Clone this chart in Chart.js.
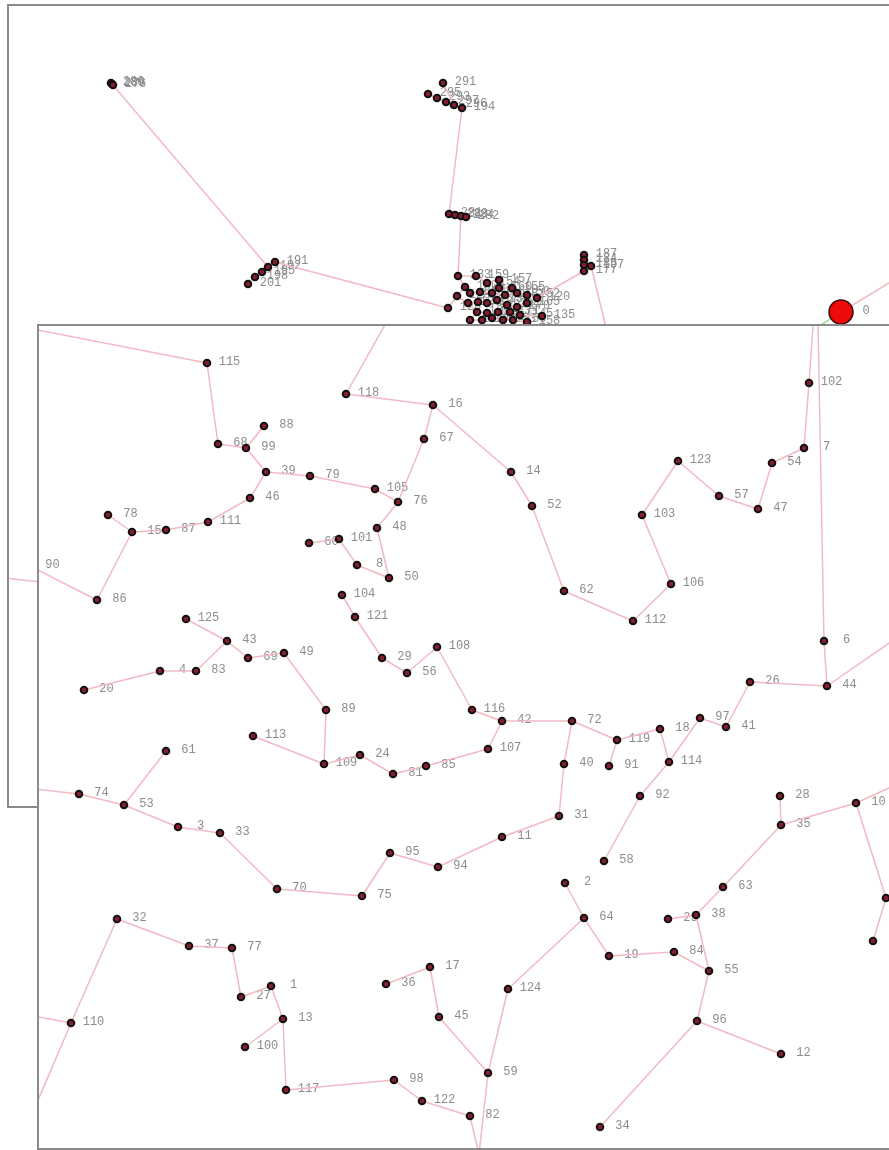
<!DOCTYPE html>
<html>
<head>
<meta charset="utf-8">
<script src="https://cdn.jsdelivr.net/npm/chart.js@4"></script>
<style>
  body { margin: 0; background: #fff; overflow: hidden; }
  .panel { position: absolute; border: 2px solid #8a8a8a; background: #fff; }
  #topPanel { left: 7px; top: 4px; }
  #botPanel { left: 37px; top: 324px; }
</style>
</head>
<body>
<div class="panel" id="topPanel"><canvas id="topChart"></canvas></div>
<div class="panel" id="botPanel"><canvas id="botChart"></canvas></div>
<script>
  // ---- top view : node ids and positions ("h" = node outside the picture)
  const topIds = ['0', '286', '289', '276', '191', '192', '195', '198', '201',
    '291', '285', '293', '297', '296', '194', '281', '283', '284', '282',
    '187', '184', '185', '177', '197',
    '133', '159', '154', '157', '160', '155', '140', '128', '142', '144', '146', '148', '150', '152', '120',
    '126', '129', '131', '136', '138', '204', '170', '165', '139', '141', '143', '71', '145',
    '147', '149', '151', '153', '156', '158', '135',
    'h0r', 'h197', 'hL', 'hM', 'hG'];
  const topX = [841, 111, 112, 113, 275, 268, 262, 255, 248,
    443, 428, 437, 446, 454, 462, 449, 455, 461, 466,
    584, 584, 584, 584, 591,
    458, 476, 487, 499, 499, 512, 465, 457, 470, 480, 492, 505, 517, 527, 537,
    448, 468, 478, 487, 497, 507, 517, 527, 477, 487, 498, 510, 520,
    470, 482, 492, 503, 513, 527, 542,
    950, 620, -40, 200, 780];
  const topY = [312, 83, 84, 85, 262, 267, 272, 277, 284,
    83, 94, 98, 102, 105, 108, 214, 215, 216, 217,
    255, 260, 265, 271, 266,
    276, 276, 283, 280, 288, 288, 287, 296, 293, 292, 293, 295, 293, 295, 298,
    308, 303, 302, 303, 300, 305, 307, 303, 312, 313, 312, 312, 315,
    320, 320, 318, 320, 320, 322, 316,
    246, 385, 573, 600, 352];
  const topEdges = [['0', 'h0r'], ['286', '289'], ['276', '289'], ['289', '192'],
    ['191', '192'], ['192', '195'], ['195', '198'], ['198', '201'], ['191', '126'],
    ['291', '296'], ['285', '293'], ['293', '297'], ['297', '296'], ['296', '194'], ['194', '281'],
    ['281', '283'], ['283', '284'], ['284', '282'], ['284', '133'],
    ['187', '184'], ['184', '185'], ['185', '177'], ['177', '120'], ['184', '197'], ['197', 'h197'],
    ['hL', 'hM'],
    ['133', '159'], ['159', '154'], ['154', '157'], ['157', '160'], ['160', '155'],
    ['133', '140'], ['140', '128'], ['128', '126'], ['140', '142'], ['142', '144'], ['144', '146'],
    ['146', '148'], ['148', '150'], ['150', '152'], ['152', '120'],
    ['128', '129'], ['129', '131'], ['131', '136'], ['136', '138'], ['138', '204'], ['204', '170'], ['170', '165'],
    ['129', '139'], ['139', '141'], ['141', '143'], ['143', '71'], ['71', '145'], ['145', '135'],
    ['139', '147'], ['147', '149'], ['149', '151'], ['151', '153'], ['153', '156'], ['156', '158']];
  const topGreenEdges = [['0', 'hG']];

  // ---- close-up view
  const botIds = ['h0', '102', '7', '54', '47', '57', '123', '103', '106', '112', '62', '52', '14', '16',
    '118', 'h118', '67', '76', '105', '79', '39', '99', '88', '68', '115', 'h115',
    '46', '111', '87', '15', '78', '86', '90', '48', '50', '8', '101', '60',
    '104', '121', '29', '56', '108', '116', '42', '107', '85', '81', '24', '109', '113',
    '89', '49', '69', '43', '125', '83', '4', '20',
    '72', '40', '31', '11', '94', '95', '75', '70', '33', '3', '53', '74', 'h74', '61',
    '119', '91', '18', '114', '92', '58', '97', '41', '26', '44', '6', 'h44',
    '28', '35', '10', 'h10', '120', '93', '63', '38', '23', '55', '84', '19', '64', '2',
    '124', '59', '45', '17', '36', '96', '12', '34', '82', 'h82',
    '122', '98', '117', '13', '100', '1', '27', '77', '37', '32', '110', 'h110a', 'h110b'];
  const botX = [817, 809, 804, 772, 758, 719, 678, 642, 671, 633, 564, 532, 511, 433,
    346, 399, 424, 398, 375, 310, 266, 246, 264, 218, 207, -60,
    250, 208, 166, 132, 108, 97, 30, 377, 389, 357, 339, 309,
    342, 355, 382, 407, 437, 472, 502, 488, 426, 393, 360, 324, 253,
    326, 284, 248, 227, 186, 196, 160, 84,
    572, 564, 559, 502, 438, 390, 362, 277, 220, 178, 124, 79, -60, 166,
    617, 609, 660, 669, 640, 604, 700, 726, 750, 827, 824, 950,
    780, 781, 856, 950, 886, 873, 723, 696, 668, 709, 674, 609, 584, 565,
    508, 488, 439, 430, 386, 697, 781, 600, 470, 479,
    422, 394, 286, 283, 245, 271, 241, 232, 189, 117, 71, -60, 4];
  const botY = [270, 383, 448, 463, 509, 496, 461, 515, 584, 621, 591, 506, 472, 405,
    394, 300, 439, 502, 489, 476, 472, 448, 426, 444, 363, 311,
    498, 522, 530, 532, 515, 600, 566, 528, 578, 565, 539, 543,
    595, 617, 658, 673, 647, 710, 721, 749, 766, 774, 755, 764, 736,
    710, 653, 658, 641, 619, 671, 671, 690,
    721, 764, 816, 837, 867, 853, 896, 889, 833, 827, 805, 794, 778, 751,
    740, 766, 729, 762, 796, 861, 718, 727, 682, 686, 641, 601,
    796, 825, 803, 760, 898, 941, 887, 915, 919, 971, 952, 956, 918, 883,
    989, 1073, 1017, 967, 984, 1021, 1054, 1127, 1116, 1154,
    1101, 1080, 1090, 1019, 1047, 986, 997, 948, 946, 919, 1023, 998, 1180];
  const botEdges = [['h0', '102'], ['102', '7'], ['7', '54'], ['54', '47'], ['47', '57'], ['57', '123'],
    ['123', '103'], ['103', '106'], ['106', '112'], ['112', '62'], ['62', '52'], ['52', '14'], ['14', '16'],
    ['16', '118'], ['118', 'h118'], ['16', '67'], ['67', '76'], ['76', '105'], ['105', '79'], ['79', '39'],
    ['39', '99'], ['99', '88'], ['99', '68'], ['68', '115'], ['115', 'h115'],
    ['39', '46'], ['46', '111'], ['111', '87'], ['87', '15'], ['15', '78'], ['15', '86'], ['86', '90'],
    ['76', '48'], ['48', '50'], ['50', '8'], ['8', '101'], ['101', '60'],
    ['104', '121'], ['121', '29'], ['29', '56'], ['56', '108'], ['108', '116'], ['116', '42'],
    ['42', '107'], ['107', '85'], ['85', '81'], ['81', '24'], ['24', '109'], ['109', '113'],
    ['109', '89'], ['89', '49'], ['49', '69'], ['69', '43'], ['43', '125'], ['43', '83'], ['83', '4'], ['4', '20'],
    ['42', '72'], ['72', '40'], ['40', '31'], ['31', '11'], ['11', '94'], ['94', '95'], ['95', '75'],
    ['75', '70'], ['70', '33'], ['33', '3'], ['3', '53'], ['53', '74'], ['74', 'h74'], ['53', '61'],
    ['72', '119'], ['119', '91'], ['119', '18'], ['18', '114'], ['114', '92'], ['92', '58'],
    ['114', '97'], ['97', '41'], ['41', '26'], ['26', '44'], ['44', '6'], ['6', 'h0'], ['44', 'h44'],
    ['28', '35'], ['35', '10'], ['10', 'h10'], ['10', '120'], ['120', '93'],
    ['35', '63'], ['63', '38'], ['38', '23'], ['38', '55'], ['55', '84'], ['84', '19'], ['19', '64'],
    ['64', '2'], ['64', '124'], ['124', '59'], ['59', '45'], ['45', '17'], ['17', '36'],
    ['59', 'h82'], ['82', 'h82'], ['82', '122'], ['122', '98'], ['98', '117'], ['117', '13'],
    ['13', '100'], ['13', '1'], ['1', '27'], ['27', '77'], ['77', '37'], ['37', '32'],
    ['32', '110'], ['110', 'h110a'], ['110', 'h110b'],
    ['55', '96'], ['96', '12'], ['96', '34']];

  function edgeData(ids, xs, ys, edges) {
    const out = [];
    edges.forEach(function (e) {
      const a = ids.indexOf(e[0]), b = ids.indexOf(e[1]);
      out.push({x: xs[a], y: ys[a]}, {x: xs[b], y: ys[b]}, {x: null, y: null});
    });
    return out;
  }

  function nodeData(ids, xs, ys, keep) {
    const out = [];
    ids.forEach(function (id, i) {
      if (keep(id)) out.push({x: xs[i], y: ys[i]});
    });
    return out;
  }

  // labels go under the dots, centred a fixed step right of the node
  function labelPlugin(ids, xs, ys) {
    return {
      id: 'nodeLabels',
      beforeDatasetsDraw(chart) {
        const ctx = chart.ctx, sx = chart.scales.x, sy = chart.scales.y;
        ctx.save();
        ctx.font = '12px "Liberation Mono"';
        ctx.fillStyle = '#8c8c8c';
        ctx.textAlign = 'center';
        ctx.textBaseline = 'middle';
        ids.forEach(function (id, i) {
          if (id[0] === 'h') return;
          const off = id === '0' ? 25 : 22.5;
          ctx.fillText(id, sx.getPixelForValue(xs[i]) + off, sy.getPixelForValue(ys[i]) - 1);
        });
        ctx.restore();
      }
    };
  }

  function makeGraph(canvasId, box, ids, xs, ys, edges, extra) {
    const cv = document.getElementById(canvasId);
    cv.width = box.w; cv.height = box.h;
    cv.parentNode.style.width = box.w + 'px';
    cv.parentNode.style.height = box.h + 'px';
    const datasets = [{
      data: nodeData(ids, xs, ys, function (id) { return id[0] !== 'h' && id !== '0'; }),
      pointRadius: 3.3,
      pointBackgroundColor: '#861c2c',
      pointBorderColor: '#111',
      pointBorderWidth: 2,
      order: 1
    }, {
      data: edgeData(ids, xs, ys, edges),
      showLine: true,
      spanGaps: false,
      pointRadius: 0,
      borderColor: '#f3b9c3',
      borderWidth: 1.5,
      order: 3
    }].concat(extra || []);
    return new Chart(cv, {
      type: 'scatter',
      data: {datasets: datasets},
      options: {
        responsive: false,
        animation: false,
        events: [],
        layout: {padding: 0, autoPadding: false},
        plugins: {legend: {display: false}, tooltip: {enabled: false}},
        scales: {
          x: {type: 'linear', display: false, min: box.x, max: box.x + box.w},
          y: {type: 'linear', display: false, reverse: true, min: box.y, max: box.y + box.h}
        }
      },
      plugins: [labelPlugin(ids, xs, ys)]
    });
  }

  const r0 = topIds.indexOf('0');
  makeGraph('topChart', {x: 9, y: 6, w: 900, h: 800}, topIds, topX, topY, topEdges, [{
    data: [{x: topX[r0], y: topY[r0]}],
    pointRadius: 12,
    pointBackgroundColor: '#ee0a0a',
    pointBorderColor: '#3a0a0a',
    pointBorderWidth: 1.5,
    order: 0
  }, {
    data: edgeData(topIds, topX, topY, topGreenEdges),
    showLine: true,
    pointRadius: 0,
    borderColor: '#9be29b',
    borderWidth: 1.5,
    order: 2
  }]);

  makeGraph('botChart', {x: 39, y: 326, w: 860, h: 822}, botIds, botX, botY, botEdges);
</script>
</body>
</html>
